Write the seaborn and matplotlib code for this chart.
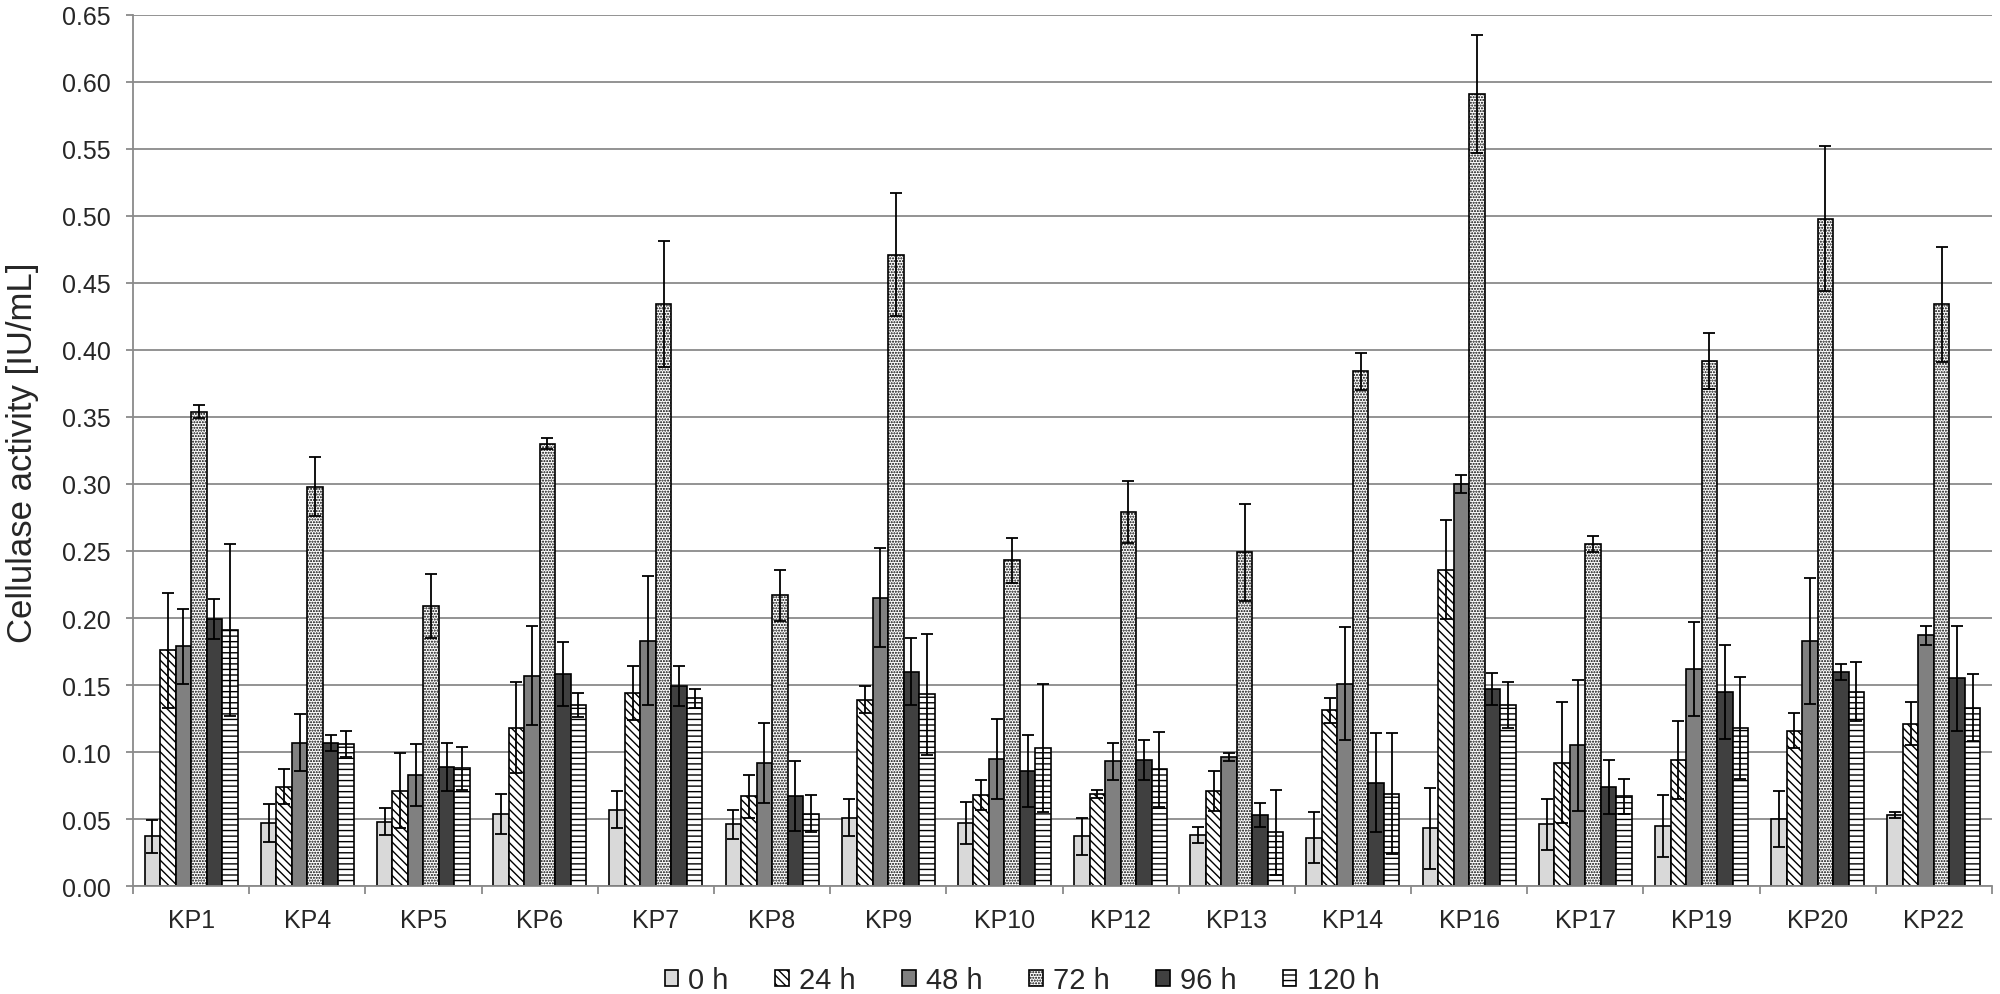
import numpy as np
import pandas as pd
import seaborn as sns
import matplotlib.pyplot as plt

# Strains on the x axis
strains = ["KP1", "KP4", "KP5", "KP6", "KP7", "KP8", "KP9", "KP10",
           "KP12", "KP13", "KP14", "KP16", "KP17", "KP19", "KP20", "KP22"]
times = ["0 h", "24 h", "48 h", "72 h", "96 h", "120 h"]

# Mean cellulase activity [IU/mL] for each time point
t0 = [0.037, 0.047, 0.048, 0.054, 0.057, 0.046, 0.051, 0.047,
      0.037, 0.038, 0.036, 0.043, 0.046, 0.045, 0.050, 0.053]
t24 = [0.176, 0.074, 0.071, 0.118, 0.144, 0.067, 0.139, 0.068,
       0.069, 0.071, 0.131, 0.236, 0.092, 0.094, 0.116, 0.121]
t48 = [0.179, 0.107, 0.083, 0.157, 0.183, 0.092, 0.215, 0.095,
       0.093, 0.096, 0.151, 0.300, 0.105, 0.162, 0.183, 0.187]
t72 = [0.354, 0.298, 0.209, 0.330, 0.434, 0.217, 0.471, 0.243,
       0.279, 0.249, 0.384, 0.591, 0.255, 0.392, 0.498, 0.434]
t96 = [0.199, 0.107, 0.089, 0.158, 0.149, 0.067, 0.160, 0.086,
       0.094, 0.053, 0.077, 0.147, 0.074, 0.145, 0.160, 0.155]
t120 = [0.191, 0.106, 0.088, 0.135, 0.140, 0.054, 0.143, 0.103,
        0.087, 0.040, 0.069, 0.135, 0.067, 0.118, 0.145, 0.133]

# Standard deviations (error bars)
e0 = [0.012, 0.014, 0.010, 0.015, 0.014, 0.011, 0.014, 0.016,
      0.014, 0.006, 0.019, 0.030, 0.019, 0.023, 0.021, 0.002]
e24 = [0.043, 0.013, 0.028, 0.034, 0.020, 0.016, 0.010, 0.011,
       0.003, 0.015, 0.009, 0.037, 0.045, 0.029, 0.013, 0.016]
e48 = [0.028, 0.021, 0.023, 0.037, 0.048, 0.030, 0.037, 0.030,
       0.014, 0.003, 0.042, 0.007, 0.049, 0.035, 0.047, 0.007]
e72 = [0.005, 0.022, 0.024, 0.004, 0.047, 0.019, 0.046, 0.017,
       0.023, 0.036, 0.014, 0.044, 0.006, 0.021, 0.054, 0.043]
e96 = [0.015, 0.006, 0.018, 0.024, 0.015, 0.026, 0.025, 0.027,
       0.015, 0.009, 0.037, 0.012, 0.020, 0.035, 0.006, 0.039]
e120 = [0.064, 0.010, 0.016, 0.009, 0.007, 0.014, 0.045, 0.048,
        0.028, 0.032, 0.045, 0.017, 0.013, 0.038, 0.022, 0.025]

means = [t0, t24, t48, t72, t96, t120]
errors = [e0, e24, e48, e72, e96, e120]

# bar looks, one per time point
face_colors = ["#d9d9d9", "white", "#808080", "white", "#404040", "white"]
hatches = ["", "\\\\\\\\", "", "......", "", "---"]


def build_frame():
    rows = []
    for t, vals, errs in zip(times, means, errors):
        for s, v, e in zip(strains, vals, errs):
            rows.append({"strain": s, "time": t, "activity": v, "sd": e})
    return pd.DataFrame(rows)


def main():
    df = build_frame()

    sns.set_theme(style="white")
    plt.rcParams["font.family"] = ["Liberation Sans", "DejaVu Sans"]
    plt.rcParams["hatch.linewidth"] = 1.0

    fig = plt.figure(figsize=(20, 9.95), dpi=100)
    ax = fig.add_axes([0.0665, 0.1085, 0.9295, 0.8755])

    sns.barplot(data=df, x="strain", y="activity", hue="time",
                order=strains, hue_order=times, errorbar=None,
                palette=face_colors, width=0.8, legend=False,
                edgecolor="black", linewidth=1.2, ax=ax, zorder=2)

    for cont, fc, h, errs in zip(ax.containers, face_colors, hatches, errors):
        xs = []
        ys = []
        for bar in cont:
            bar.set_facecolor(fc)
            bar.set_edgecolor("black")
            bar.set_hatch(h)
            xs.append(bar.get_x() + bar.get_width() / 2)
            ys.append(bar.get_height())
        ax.errorbar(xs, ys, yerr=errs, fmt="none", ecolor="black",
                    elinewidth=1.3, capsize=4, capthick=1.3, zorder=3)

    ax.set_ylim(0, 0.65)
    ax.set_xlim(-0.5, len(strains) - 0.5)
    ax.set_yticks(np.arange(0, 0.651, 0.05))
    ax.set_yticklabels([f"{v:.2f}" for v in np.arange(0, 0.651, 0.05)])
    ax.yaxis.grid(True, color="#8a8a8a", linewidth=1.3, zorder=0)
    ax.set_axisbelow(True)

    for side in ["top", "right"]:
        ax.spines[side].set_visible(False)
    for side in ["left", "bottom"]:
        ax.spines[side].set_color("#8a8a8a")
        ax.spines[side].set_linewidth(1.3)

    ax.tick_params(axis="y", length=5, width=1.3, color="#8a8a8a",
                   labelsize=18, pad=11, direction="out", left=True)
    ax.tick_params(axis="x", which="major", length=0, labelsize=18, pad=16)
    ax.set_xticks(np.arange(-0.5, len(strains)), minor=True)
    ax.tick_params(axis="x", which="minor", length=6, width=1.3,
                   color="#8a8a8a", direction="out", bottom=True)

    ax.set_xlabel("")
    ax.set_ylabel("")
    fig.text(0.0115, 0.545, "Cellulase activity [IU/mL]", fontsize=25,
             rotation=90, ha="center", va="center")

    handles = [cont[0] for cont in ax.containers]
    fig.legend(handles, times, loc="center", bbox_to_anchor=(0.511, 0.014),
               ncol=6, frameon=False, fontsize=21, handlelength=0.46,
               handleheight=0.46, handletextpad=0.35, columnspacing=1.6)

    fig.savefig("out.png", dpi=100)


if __name__ == '__main__':
    main()
